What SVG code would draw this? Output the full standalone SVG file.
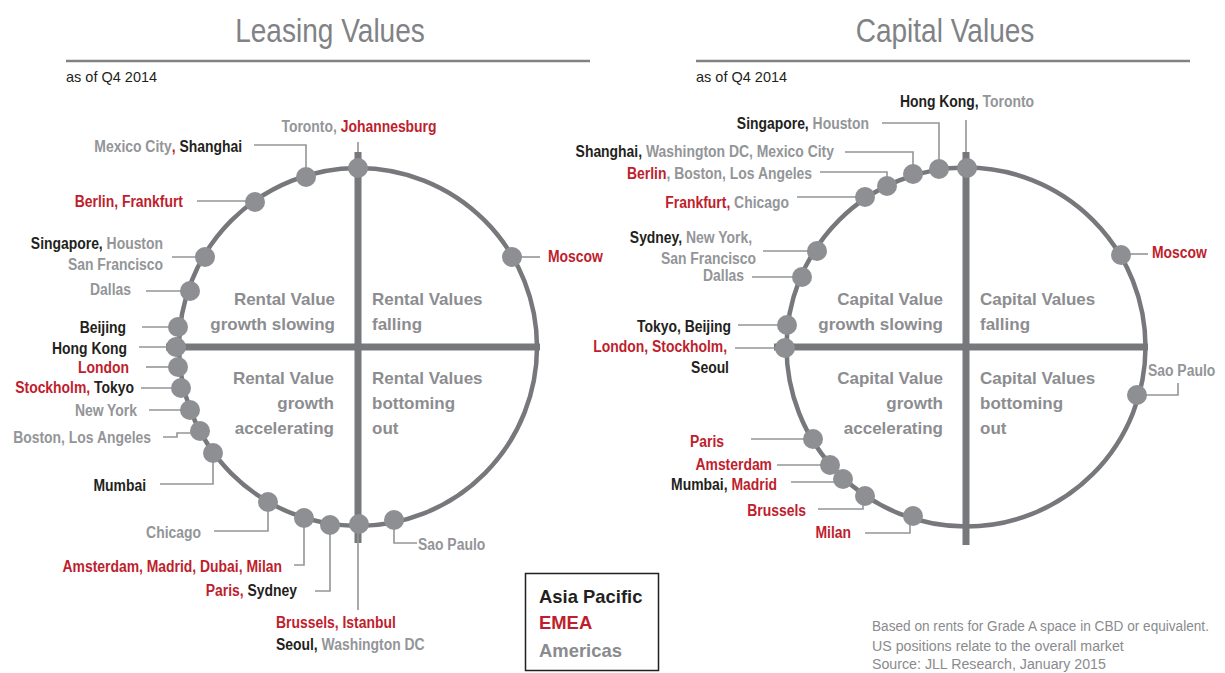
<svg xmlns="http://www.w3.org/2000/svg" width="1225" height="673" viewBox="0 0 1225 673">
<style>
.lbl{font-family:"Liberation Sans",Arial,sans-serif;font-weight:bold;font-size:16px}
.k{fill:#231f20}.r{fill:#be1e2d}.g{fill:#939598}
.q{font-family:"Liberation Sans",Arial,sans-serif;font-weight:bold;font-size:17px;fill:#8c8d90}
.ttl{font-family:"Liberation Sans",Arial,sans-serif;font-size:33px;fill:#808285}
.sub{font-family:"Liberation Sans",Arial,sans-serif;font-size:14.5px;fill:#231f20}
.foot{font-family:"Liberation Sans",Arial,sans-serif;font-size:14.5px;fill:#8a8b8e}
.leg{font-family:"Liberation Sans",Arial,sans-serif;font-weight:bold;font-size:19px}
.dot{fill:#8e8f93}
.ring{fill:none;stroke:#77787b;stroke-width:4.5}
.axis{stroke:#77787b;stroke-width:7}
.ld{fill:none;stroke:#939598;stroke-width:1.6}
.rule{stroke:#808285;stroke-width:2.5}
</style>

<g id="headers">
<text class="ttl" text-anchor="middle" transform="translate(330,42) scale(.85,1)">Leasing Values</text>
<line class="rule" x1="66" y1="61" x2="590" y2="61"/>
<text class="sub" x="66" y="82">as of Q4 2014</text>
<text class="ttl" text-anchor="middle" transform="translate(945,42) scale(.85,1)">Capital Values</text>
<line class="rule" x1="696" y1="61" x2="1190" y2="61"/>
<text class="sub" x="696" y="82">as of Q4 2014</text>
</g>

<g id="frame-left">
<circle class="ring" cx="358" cy="347" r="179"/>
<line class="axis" x1="166" y1="347" x2="540" y2="347"/>
<line class="axis" x1="358" y1="152" x2="358" y2="543"/>
<text class="q" text-anchor="end" x="335" y="305">Rental Value</text>
<text class="q" text-anchor="end" x="335" y="330">growth slowing</text>
<text class="q" x="372" y="305">Rental Values</text>
<text class="q" x="372" y="330">falling</text>
<text class="q" text-anchor="end" x="334" y="384">Rental Value</text>
<text class="q" text-anchor="end" x="334" y="409">growth</text>
<text class="q" text-anchor="end" x="334" y="434">accelerating</text>
<text class="q" x="372" y="384">Rental Values</text>
<text class="q" x="372" y="409">bottoming</text>
<text class="q" x="372" y="434">out</text>
</g>

<g id="frame-right">
<circle class="ring" cx="966" cy="347" r="179.5"/>
<line class="axis" x1="774" y1="347" x2="1148" y2="347"/>
<line class="axis" x1="966" y1="152" x2="966" y2="545"/>
<text class="q" text-anchor="end" x="943" y="305">Capital Value</text>
<text class="q" text-anchor="end" x="943" y="330">growth slowing</text>
<text class="q" x="980" y="305">Capital Values</text>
<text class="q" x="980" y="330">falling</text>
<text class="q" text-anchor="end" x="943" y="384">Capital Value</text>
<text class="q" text-anchor="end" x="943" y="409">growth</text>
<text class="q" text-anchor="end" x="943" y="434">accelerating</text>
<text class="q" x="980" y="384">Capital Values</text>
<text class="q" x="980" y="409">bottoming</text>
<text class="q" x="980" y="434">out</text>
</g>

<g id="connectors">
<path class="ld" d="M358,142V152"/>
<path class="ld" d="M254,145H306V176"/>
<path class="ld" d="M197,201H255"/>
<path class="ld" d="M172,257H205"/>
<path class="ld" d="M146,291H190"/>
<path class="ld" d="M142,327H178"/>
<path class="ld" d="M139,347H176"/>
<path class="ld" d="M146,367H178"/>
<path class="ld" d="M141,388H181"/>
<path class="ld" d="M149,410H190"/>
<path class="ld" d="M163,437H177V433H200"/>
<path class="ld" d="M160,484H213V453"/>
<path class="ld" d="M214,531H268V502"/>
<path class="ld" d="M294,565H304V518"/>
<path class="ld" d="M315,591H330V525"/>
<path class="ld" d="M358,524V610"/>
<path class="ld" d="M394,520V543H417"/>
<path class="ld" d="M512,257H540"/>

<path class="ld" d="M966,120V152"/>
<path class="ld" d="M882,123H939V169"/>
<path class="ld" d="M845,152H913V174"/>
<path class="ld" d="M820,172H887V186"/>
<path class="ld" d="M797,197H865"/>
<path class="ld" d="M763,251H817"/>
<path class="ld" d="M752,277H802"/>
<path class="ld" d="M738,325H787"/>
<path class="ld" d="M735,348H785"/>
<path class="ld" d="M751,439H813"/>
<path class="ld" d="M777,465H830"/>
<path class="ld" d="M791,482H843"/>
<path class="ld" d="M818,509H863V496"/>
<path class="ld" d="M865,533H910V516"/>
<path class="ld" d="M1121,254H1148"/>
<path class="ld" d="M1137,395H1178V383"/>
</g>

<!-- Leasing nodes -->
<g id="l-toronto"><circle class="dot" cx="358" cy="168" r="10"/><text class="lbl" text-anchor="middle" transform="translate(359,132) scale(.87,1)"><tspan class="g">Toronto, </tspan><tspan class="r">Johannesburg</tspan></text></g>
<g id="l-mexico"><circle class="dot" cx="306" cy="177" r="10"/><text class="lbl" text-anchor="end" transform="translate(242,152) scale(.87,1)"><tspan class="g">Mexico City</tspan><tspan class="r">,</tspan><tspan class="k"> Shanghai</tspan></text></g>
<g id="l-berlin"><circle class="dot" cx="255" cy="202" r="10"/><text class="lbl" text-anchor="end" transform="translate(183,207) scale(.87,1)"><tspan class="r">Berlin, Frankfurt</tspan></text></g>
<g id="l-singapore"><circle class="dot" cx="205" cy="257" r="10"/><text class="lbl" text-anchor="end" transform="translate(163,249) scale(.87,1)"><tspan class="k">Singapore,</tspan><tspan class="g"> Houston</tspan></text><text class="lbl g" text-anchor="end" transform="translate(163,270) scale(.87,1)">San Francisco</text></g>
<g id="l-dallas"><circle class="dot" cx="190" cy="291" r="10"/><text class="lbl g" text-anchor="end" transform="translate(131,295) scale(.87,1)">Dallas</text></g>
<g id="l-beijing"><circle class="dot" cx="178" cy="327" r="10"/><text class="lbl k" text-anchor="end" transform="translate(126,333) scale(.87,1)">Beijing</text></g>
<g id="l-hongkong"><circle class="dot" cx="176" cy="347" r="10"/><text class="lbl k" text-anchor="end" transform="translate(127,354) scale(.87,1)">Hong Kong</text></g>
<g id="l-london"><circle class="dot" cx="178" cy="367" r="10"/><text class="lbl r" text-anchor="end" transform="translate(129,373) scale(.87,1)">London</text></g>
<g id="l-stockholm"><circle class="dot" cx="181" cy="388" r="10"/><text class="lbl" text-anchor="end" transform="translate(134,393) scale(.87,1)"><tspan class="r">Stockholm,</tspan><tspan class="k"> Tokyo</tspan></text></g>
<g id="l-newyork"><circle class="dot" cx="190" cy="410" r="10"/><text class="lbl g" text-anchor="end" transform="translate(137,416) scale(.87,1)">New York</text></g>
<g id="l-boston"><circle class="dot" cx="200" cy="431" r="10"/><text class="lbl g" text-anchor="end" transform="translate(151,443) scale(.87,1)">Boston, Los Angeles</text></g>
<g id="l-mumbai"><circle class="dot" cx="213" cy="453" r="10"/><text class="lbl k" text-anchor="end" transform="translate(146,491) scale(.87,1)">Mumbai</text></g>
<g id="l-chicago"><circle class="dot" cx="268" cy="502" r="10"/><text class="lbl g" text-anchor="end" transform="translate(201,538) scale(.87,1)">Chicago</text></g>
<g id="l-amsterdam"><circle class="dot" cx="304" cy="518" r="10"/><text class="lbl r" text-anchor="end" transform="translate(282,572) scale(.87,1)">Amsterdam, Madrid, Dubai, Milan</text></g>
<g id="l-paris"><circle class="dot" cx="330" cy="525" r="10"/><text class="lbl" text-anchor="end" transform="translate(297,596) scale(.87,1)"><tspan class="r">Paris,</tspan><tspan class="k"> Sydney</tspan></text></g>
<g id="l-brussels"><circle class="dot" cx="359" cy="524" r="10"/><text class="lbl r" transform="translate(276,628) scale(.87,1)">Brussels, Istanbul</text><text class="lbl" transform="translate(276,650) scale(.87,1)"><tspan class="k">Seoul,</tspan><tspan class="g"> Washington DC</tspan></text></g>
<g id="l-saopaulo"><circle class="dot" cx="394" cy="520" r="10"/><text class="lbl g" transform="translate(418,550) scale(.87,1)">Sao Paulo</text></g>
<g id="l-moscow"><circle class="dot" cx="512" cy="257" r="10"/><text class="lbl r" transform="translate(548,262) scale(.87,1)">Moscow</text></g>

<!-- Capital nodes -->
<g id="c-hongkong"><circle class="dot" cx="967" cy="168" r="10"/><text class="lbl" text-anchor="middle" transform="translate(967,107) scale(.87,1)"><tspan class="k">Hong Kong,</tspan><tspan class="g"> Toronto</tspan></text></g>
<g id="c-singapore"><circle class="dot" cx="939" cy="169" r="10"/><text class="lbl" text-anchor="end" transform="translate(869,129) scale(.87,1)"><tspan class="k">Singapore,</tspan><tspan class="g"> Houston</tspan></text></g>
<g id="c-shanghai"><circle class="dot" cx="913" cy="174" r="10"/><text class="lbl" text-anchor="end" transform="translate(834,157) scale(.87,1)"><tspan class="k">Shanghai,</tspan><tspan class="g"> Washington DC, Mexico City</tspan></text></g>
<g id="c-berlin"><circle class="dot" cx="887" cy="186" r="10"/><text class="lbl" text-anchor="end" transform="translate(812,179) scale(.87,1)"><tspan class="r">Berlin</tspan><tspan class="g">, Boston, Los Angeles</tspan></text></g>
<g id="c-frankfurt"><circle class="dot" cx="865" cy="197" r="10"/><text class="lbl" text-anchor="end" transform="translate(789,208) scale(.87,1)"><tspan class="r">Frankfurt,</tspan><tspan class="g"> Chicago</tspan></text></g>
<g id="c-sydney"><circle class="dot" cx="817" cy="251" r="10"/><text class="lbl" text-anchor="end" transform="translate(752,243) scale(.87,1)"><tspan class="k">Sydney,</tspan><tspan class="g"> New York,</tspan></text><text class="lbl g" text-anchor="end" transform="translate(756,264) scale(.87,1)">San Francisco</text></g>
<g id="c-dallas"><circle class="dot" cx="802" cy="277" r="10"/><text class="lbl g" text-anchor="end" transform="translate(744,281) scale(.87,1)">Dallas</text></g>
<g id="c-tokyo"><circle class="dot" cx="787" cy="325" r="10"/><text class="lbl k" text-anchor="end" transform="translate(731,332) scale(.87,1)">Tokyo, Beijing</text></g>
<g id="c-london"><circle class="dot" cx="785" cy="348" r="10"/><text class="lbl r" text-anchor="end" transform="translate(727,352) scale(.87,1)">London, Stockholm,</text><text class="lbl k" text-anchor="end" transform="translate(729,373) scale(.87,1)">Seoul</text></g>
<g id="c-paris"><circle class="dot" cx="813" cy="439" r="10"/><text class="lbl r" text-anchor="end" transform="translate(724,447) scale(.87,1)">Paris</text></g>
<g id="c-amsterdam"><circle class="dot" cx="830" cy="465" r="10"/><text class="lbl r" text-anchor="end" transform="translate(772,470) scale(.87,1)">Amsterdam</text></g>
<g id="c-mumbai"><circle class="dot" cx="843" cy="479" r="10"/><text class="lbl" text-anchor="end" transform="translate(777,490) scale(.87,1)"><tspan class="k">Mumbai,</tspan><tspan class="r"> Madrid</tspan></text></g>
<g id="c-brussels"><circle class="dot" cx="865" cy="496" r="10"/><text class="lbl r" text-anchor="end" transform="translate(806,516) scale(.87,1)">Brussels</text></g>
<g id="c-milan"><circle class="dot" cx="913" cy="516" r="10"/><text class="lbl r" text-anchor="end" transform="translate(851,538) scale(.87,1)">Milan</text></g>
<g id="c-moscow"><circle class="dot" cx="1121" cy="255" r="10"/><text class="lbl r" transform="translate(1152,258) scale(.87,1)">Moscow</text></g>
<g id="c-saopaulo"><circle class="dot" cx="1137" cy="395" r="10"/><text class="lbl g" transform="translate(1148,376) scale(.87,1)">Sao Paulo</text></g>

<g id="legend">
<rect x="525.5" y="573.5" width="133" height="97" fill="none" stroke="#231f20" stroke-width="1.5"/>
<text class="leg k" transform="translate(539,603) scale(.97,1)">Asia Pacific</text>
<text class="leg r" transform="translate(539,629) scale(.97,1)">EMEA</text>
<text class="leg" fill="#8a8b8e" transform="translate(539,657) scale(.97,1)">Americas</text>
</g>

<g id="footnote">
<text class="foot" transform="translate(872,631) scale(.94,1)">Based on rents for Grade A space in CBD or equivalent.</text>
<text class="foot" transform="translate(872,651) scale(.98,1)">US positions relate to the overall market</text>
<text class="foot" transform="translate(872,669) scale(.98,1)">Source: JLL Research, January 2015</text>
</g>
</svg>
